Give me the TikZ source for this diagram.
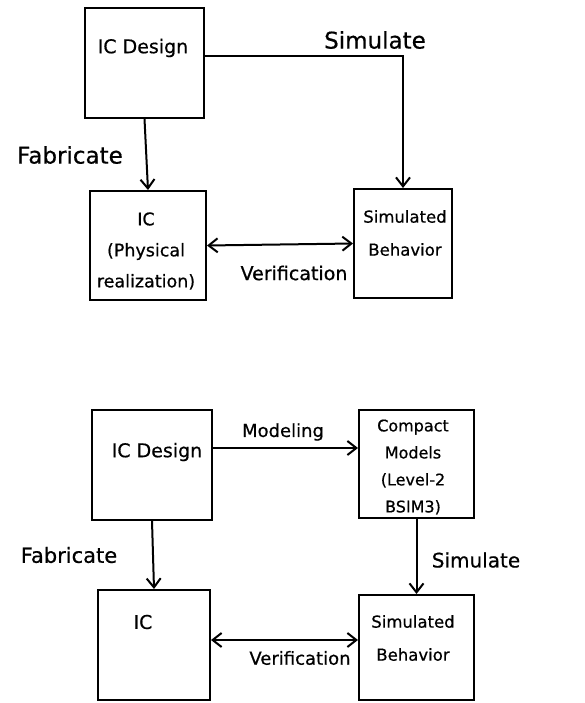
\documentclass[tikz,border=0pt]{standalone}
\usepackage{fontspec}
\setmainfont[FakeBold=0.6]{DejaVu Sans}
\usetikzlibrary{arrows.meta}
\begin{document}
\begin{tikzpicture}[x=1pt,y=-1pt,
  box/.style={draw, line width=2pt, inner sep=0pt},
  tip/.tip={Straight Barb[length=9pt,width=14pt]},
  link/.style={line width=2pt, -tip},
  both/.style={line width=2pt, tip-tip},
  txt/.style={inner sep=0pt, align=center, font=\bfseries}]
\useasboundingbox (0,0) rectangle (584,703);

% ---------- upper flow: design, fabrication, simulation ----------
\node[box, minimum width=119pt, minimum height=110pt] (dsgA) at (144.5,63) {};
\node[box, minimum width=116pt, minimum height=109pt] (icA)  at (148,245.5) {};
\node[box, minimum width=98pt,  minimum height=109pt] (simA) at (403,243.5) {};

\node[txt, font=\fontsize{19}{23}\selectfont] (tdsgA) at (143,48) {IC Design};
\node[txt, font=\fontsize{17.5}{31}\selectfont] (ticA) at (146,251)
  {IC\\(Physical\\realization)};
\node[txt, font=\fontsize{16.5}{33}\selectfont] (tsimA) at (405,233)
  {Simulated\\Behavior};

\draw[link] (dsgA.south) -- (icA.north);
\draw[link] ([yshift=7pt]dsgA.east) -| (simA.north);
\draw[both] (icA.east) -- (simA.west);

\node[txt, font=\fontsize{23}{27}\selectfont] (lfabA) at (70,155) {Fabricate};
\node[txt, font=\fontsize{23}{27}\selectfont] (lsimA) at (375,40) {Simulate};
\node[txt, font=\fontsize{19}{23}\selectfont] (lverA) at (294,273) {Verification};

% ---------- lower flow: design, compact models, simulation ----------
\node[box, minimum width=120pt, minimum height=110pt] (dsgB) at (152,465) {};
\node[box, minimum width=115pt, minimum height=108pt] (cmpB) at (416.5,464) {};
\node[box, minimum width=112pt, minimum height=110pt] (icB)  at (154,645) {};
\node[box, minimum width=115pt, minimum height=105pt] (simB) at (416.5,647.5) {};

\node[txt, font=\fontsize{19}{23}\selectfont] (tdsgB) at (157,452) {IC Design};
\node[txt, font=\fontsize{16}{27}\selectfont] (tcmpB) at (413,467)
  {Compact\\Models\\(Level-2\\BSIM3)};
\node[txt, font=\fontsize{19}{23}\selectfont] (ticB) at (143,622) {IC};
\node[txt, font=\fontsize{16.5}{33}\selectfont] (tsimB) at (413,638)
  {Simulated\\Behavior};

\draw[link] ([yshift=17pt]dsgB.east) -- ([yshift=17pt]dsgB.east -| cmpB.west);
\draw[link] (dsgB.south) -- (icB.north);
\draw[link] (cmpB.south) -- (simB.north);
\draw[both] ([yshift=5pt]icB.east) -- ([yshift=5pt]icB.east -| simB.west);

\node[txt, font=\fontsize{18}{22}\selectfont] (lmodB) at (283,432) {Modeling};
\node[txt, font=\fontsize{21}{25}\selectfont] (lfabB) at (69,555) {Fabricate};
\node[txt, font=\fontsize{20}{24}\selectfont] (lsimB) at (476,560) {Simulate};
\node[txt, font=\fontsize{18}{22}\selectfont] (lverB) at (300,658) {Verification};
\end{tikzpicture}
\end{document}
